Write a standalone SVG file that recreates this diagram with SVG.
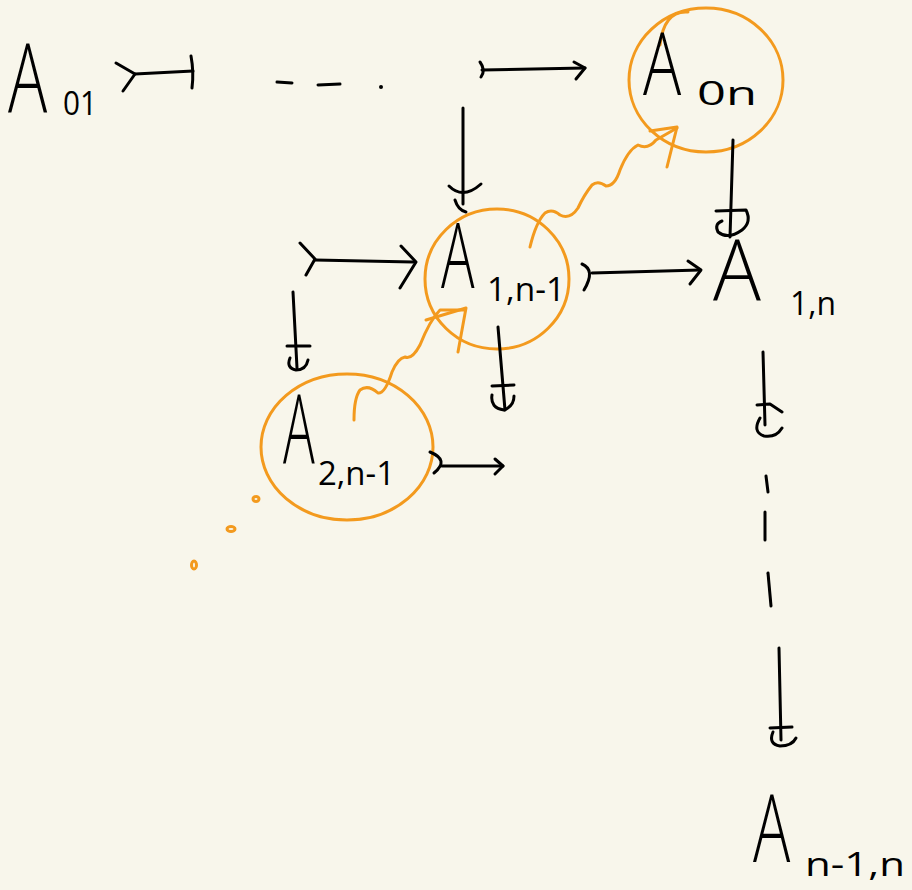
<svg xmlns="http://www.w3.org/2000/svg" width="912" height="890" viewBox="0 0 912 890">
<style>
.ink{fill:none;stroke:#000;stroke-width:3;stroke-linecap:round;stroke-linejoin:round}
.or{fill:none;stroke:#f39a1e;stroke-width:3;stroke-linecap:round;stroke-linejoin:round}
.big{font-family:"Open Sans","Liberation Sans",Arial,sans-serif;fill:#000;font-weight:300}
.sub{font-family:"Open Sans","Liberation Sans",Arial,sans-serif;fill:#000;font-weight:400;font-size:32px}
</style>
<rect width="912" height="890" fill="#f8f6eb"/>
<g id="node-A01">
<text class="big" transform="translate(8,112) scale(0.68,1)" font-size="96">A</text>
<text class="sub" x="63" y="115" textLength="34" lengthAdjust="spacingAndGlyphs">01</text>
</g>
<g id="node-A0n">
<ellipse class="or" cx="706" cy="80" rx="77" ry="72"/>
<path class="or" d="M660 45 Q664 10 688 12"/>
<text class="big" transform="translate(643,95) scale(0.74,1)" font-size="86">A</text>
<text class="sub" x="697" y="105" textLength="60" lengthAdjust="spacingAndGlyphs">0n</text>
</g>
<g id="node-A1n1">
<ellipse class="or" cx="497" cy="279" rx="72" ry="70"/>
<text class="big" transform="translate(441,288) scale(0.62,1)" font-size="90">A</text>
<text class="sub" x="487" y="301" textLength="78" lengthAdjust="spacingAndGlyphs">1,n-1</text>
</g>
<g id="node-A1n">
<text class="big" transform="translate(713,300) scale(0.95,1)" font-size="84">A</text>
<text class="sub" x="790" y="315" textLength="46" lengthAdjust="spacingAndGlyphs">1,n</text>
</g>
<g id="node-A2n1">
<ellipse class="or" cx="347" cy="447" rx="86" ry="73"/>
<text class="big" transform="translate(283,463) scale(0.55,1)" font-size="96">A</text>
<text class="sub" x="318" y="485" font-size="36" textLength="77" lengthAdjust="spacingAndGlyphs">2,n-1</text>
</g>
<g id="node-An1n">
<text class="big" transform="translate(753,862) scale(0.66,1)" font-size="94">A</text>
<text class="sub" x="805" y="876" textLength="100" lengthAdjust="spacingAndGlyphs">n-1,n</text>
</g>
<g id="connectors">
<path class="ink" d="M116 63 L135 74 L123 91"/>
<path class="ink" d="M135 74 L193 71"/>
<path class="ink" d="M191 56 Q194 72 192 88"/>
<path class="ink" d="M277 82 L292 83"/>
<path class="ink" d="M318 85 L340 84"/>
<circle cx="381" cy="87" r="2" fill="#000"/>
<path class="ink" d="M480 62 Q486 70 481 77"/>
<path class="ink" d="M482 70 L585 68"/>
<path class="ink" d="M574 62 L585 68 L576 79"/>
<path class="ink" d="M463 108 L463 204"/>
<path class="ink" d="M449 186 Q463 200 481 184"/>
<path class="ink" d="M455 200 Q458 210 466 212"/>
<path class="ink" d="M733 140 L730 237"/>
<path class="ink" d="M716 211 L746 210 Q752 222 742 230 Q728 240 718 232 Q714 224 722 221"/>
<path class="ink" d="M300 243 L315 259 L306 275"/>
<path class="ink" d="M315 260 L413 262"/>
<path class="ink" d="M401 246 L416 262 L400 288"/>
<path class="ink" d="M293 292 L297 368"/>
<path class="ink" d="M287 346 L310 346 M290 358 Q286 368 296 370 Q306 370 308 360"/>
<path class="ink" d="M498 327 L505 410"/>
<path class="ink" d="M492 386 L514 385 M492 395 Q490 408 504 410 Q514 406 514 396"/>
<path class="ink" d="M582 264 Q596 270 584 290"/>
<path class="ink" d="M592 273 L700 270"/>
<path class="ink" d="M688 261 L701 270 L690 284"/>
<path class="ink" d="M430 452 Q450 460 434 473"/>
<path class="ink" d="M442 466 L503 466"/>
<path class="ink" d="M495 459 L503 466 L495 474"/>
<path class="ink" d="M763 352 L765 425"/>
<path class="ink" d="M757 405 L770 404 L782 412 M760 418 Q752 432 764 436 Q776 438 782 428"/>
<path class="ink" d="M766 476 L768 492"/>
<path class="ink" d="M765 512 L765 540"/>
<path class="ink" d="M768 573 L771 606"/>
<path class="ink" d="M779 648 L781 740"/>
<path class="ink" d="M770 728 L792 727 M773 732 Q768 744 780 746 Q792 746 796 738"/>
<path class="or" d="M530 247 Q536 222 545 213 Q552 208 560 215 Q570 220 578 208 Q584 195 592 185 Q598 180 606 186 Q615 186 620 170 Q628 150 638 145 Q648 150 656 140 L677 128"/>
<path class="or" d="M650 131 L677 127 L667 167"/>
<path class="or" d="M354 420 Q354 398 360 390 Q368 384 378 393 Q385 394 392 372 Q398 358 405 357 Q412 360 420 345 Q430 320 440 310 L465 310"/>
<path class="or" d="M426 320 L466 308 L458 352"/>
<ellipse cx="256" cy="499" rx="3" ry="2.5" class="or"/>
<ellipse cx="231" cy="529" rx="4" ry="2.5" class="or"/>
<ellipse cx="194" cy="565" rx="2.5" ry="4" class="or"/>
</g>
</svg>
